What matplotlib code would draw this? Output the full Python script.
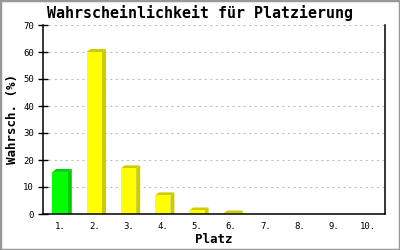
import matplotlib
matplotlib.use('Agg')
import matplotlib.pyplot as plt
from matplotlib.patches import Polygon, Rectangle

# data
places = [1, 2, 3, 4, 5, 6, 7, 8, 9, 10]
place_labels = ['1.', '2.', '3.', '4.', '5.', '6.', '7.', '8.', '9.', '10.']
probs = [15.6, 60.0, 16.9, 6.9, 1.3, 0.2, 0.0, 0.0, 0.0, 0.0]
face_colors = ['#00ff00'] + ['#ffff00'] * 9
side_colors = ['#00cc00'] + ['#cccc00'] * 9
y_ticks = [0, 10, 20, 30, 40, 50, 60, 70]

mono = 'DejaVu Sans Mono'

fig = plt.figure(figsize=(4, 2.5), dpi=100)
ax = fig.add_axes([0.1075, 0.144, 0.855, 0.756])

width = 0.45
dx, dy = 0.117, 1.1  # pseudo-3D depth in data units

for x, h, fc, sc in zip(places, probs, face_colors, side_colors):
    if h <= 0:
        continue
    x0 = x - width / 2
    x1 = x + width / 2
    ax.add_patch(Polygon([(x1, 0), (x1 + dx, 0), (x1 + dx, h + dy), (x1, h)],
                         closed=True, facecolor=sc, edgecolor='none', zorder=3))
    ax.add_patch(Polygon([(x0, h), (x0 + dx, h + dy), (x1 + dx, h + dy), (x1, h)],
                         closed=True, facecolor=sc, edgecolor='none', zorder=3))
    ax.bar(x, h, width=width, color=fc, edgecolor='none', zorder=4)

ax.set_xlim(0.5, 10.5)
ax.set_ylim(0, 70)
ax.set_xticks(places)
ax.set_xticklabels(place_labels, fontfamily=mono, fontsize=6.5)
ax.set_yticks(y_ticks)
ax.set_yticklabels([str(v) for v in y_ticks], fontfamily=mono, fontsize=6.5)

ax.tick_params(axis='x', length=0, pad=6)
ax.tick_params(axis='y', direction='inout', length=7, width=1, pad=3)

ax.grid(axis='y', color='#c0c0c0', linestyle=(0, (2, 3)), linewidth=0.8, zorder=1)
ax.set_axisbelow(True)
ax.spines['top'].set_visible(False)
for side in ['left', 'right', 'bottom']:
    ax.spines[side].set_linewidth(1.1)
    ax.spines[side].set_zorder(5)

ax.set_xlabel('Platz', fontfamily=mono, fontweight='bold', fontsize=9, labelpad=1)
ax.set_ylabel('Wahrsch. (%)', fontfamily=mono, fontweight='bold', fontsize=9, labelpad=3)

fig.text(0.5, 0.948, 'Wahrscheinlichkeit für Platzierung', ha='center', va='center',
         fontfamily=mono, fontweight='bold', fontsize=10.8)

fig.patches.append(Rectangle((0, 0), 1, 1, transform=fig.transFigure, fill=False,
                             edgecolor='#999999', linewidth=2.5))

fig.savefig('out.png', dpi=100)
